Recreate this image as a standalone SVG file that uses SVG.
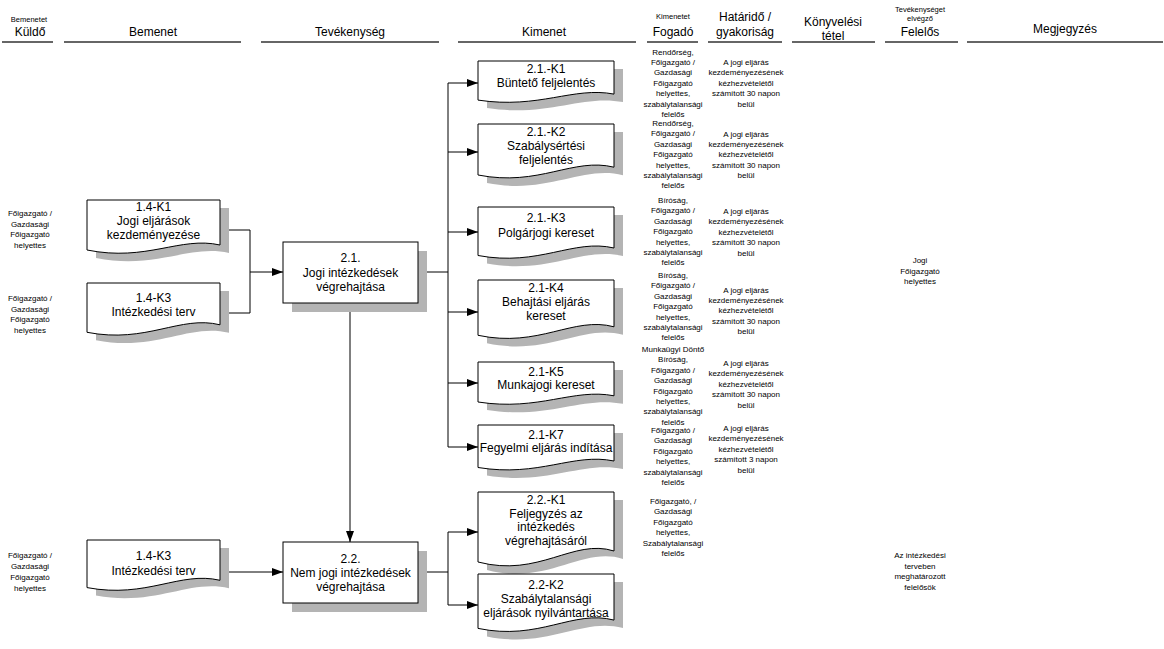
<svg xmlns="http://www.w3.org/2000/svg" xmlns:xlink="http://www.w3.org/1999/xlink" width="1164" height="649" viewBox="0 0 1164 649">
<style>
text{font-family:"Liberation Sans",Arial,sans-serif;text-anchor:middle;fill:#000}
.h{font-size:12px}
.hs{font-size:7.5px}
.t{font-size:12px}
.s{font-size:8px}
.hl{stroke:#666;stroke-width:2;fill:none}
.doc{fill:#fff;stroke:#000;stroke-width:1}
.sh{fill:#b4b4b4;stroke:none}
.box{fill:#fff;stroke:#000;stroke-width:1}
.c{fill:none;stroke:#000;stroke-width:1}
</style>
<defs>
<marker id="arr" markerUnits="userSpaceOnUse" markerWidth="11" markerHeight="8" refX="11" refY="4" orient="auto">
<path d="M0,0 L11,4 L0,8 Z" fill="#000"/>
</marker>
</defs>
<rect width="1164" height="649" fill="#fff"/>

<g id="header">
<line class="hl" x1="2" y1="42" x2="53" y2="42"/>
<line class="hl" x1="64" y1="42" x2="241" y2="42"/>
<line class="hl" x1="261" y1="42" x2="439" y2="42"/>
<line class="hl" x1="458" y1="42" x2="636" y2="42"/>
<line class="hl" x1="647" y1="42" x2="698" y2="42"/>
<line class="hl" x1="708" y1="42" x2="782" y2="42"/>
<line class="hl" x1="792" y1="42" x2="875" y2="42"/>
<line class="hl" x1="885" y1="42" x2="958" y2="42"/>
<line class="hl" x1="967" y1="42" x2="1163" y2="42"/>
<text class="hs" x="29" y="22">Bemenetet</text>
<text class="h" x="30" y="36">Küldő</text>
<text class="h" x="153" y="36">Bemenet</text>
<text class="h" x="350" y="36">Tevékenység</text>
<text class="h" x="544" y="36">Kimenet</text>
<text class="hs" x="673" y="19">Kimenetet</text>
<text class="h" x="673" y="36">Fogadó</text>
<text class="h" x="745" y="21">Határidő /</text>
<text class="h" x="745" y="36">gyakoriság</text>
<text class="h" x="833" y="26">Könyvelési</text>
<text class="h" x="833" y="40">tétel</text>
<text class="hs" x="920" y="12">Tevékenységet</text>
<text class="hs" x="920" y="21">elvégző</text>
<text class="h" x="920" y="36">Felelős</text>
<text class="h" x="1065" y="33">Megjegyzés</text>
</g>

<g id="connectors">
<path class="c" d="M220,230 H250 V313 H220"/>
<path class="c" d="M250,272 H283" marker-end="url(#arr)"/>
<path class="c" d="M418,272 H448 M448,83 V447"/>
<path class="c" d="M448,83 H478" marker-end="url(#arr)"/>
<path class="c" d="M448,152 H478" marker-end="url(#arr)"/>
<path class="c" d="M448,232 H478" marker-end="url(#arr)"/>
<path class="c" d="M448,312 H478" marker-end="url(#arr)"/>
<path class="c" d="M448,383 H478" marker-end="url(#arr)"/>
<path class="c" d="M448,447 H478" marker-end="url(#arr)"/>
<path class="c" d="M350,303 V542" marker-end="url(#arr)"/>
<path class="c" d="M220,572 H283" marker-end="url(#arr)"/>
<path class="c" d="M418,572 H448 M448,532 V605"/>
<path class="c" d="M448,532 H478" marker-end="url(#arr)"/>
<path class="c" d="M448,605 H478" marker-end="url(#arr)"/>
</g>

<g id="in-k1">
<path class="sh" transform="translate(9,8)" d="M87,200H220V245C180.1,236 146.9,262 87,250Z"/>
<path class="doc" d="M87,200H220V245C180.1,236 146.9,262 87,250Z"/>
<text class="t" x="153.5" y="211">1.4-K1</text>
<text class="t" x="153.5" y="225">Jogi eljárások</text>
<text class="t" x="153.5" y="239">kezdeményezése</text>
</g>
<g id="in-k3a">
<path class="sh" transform="translate(9,8)" d="M87,283H220V324.8C180.1,314.9 146.9,343.9 87,332.3Z"/>
<path class="doc" d="M87,283H220V324.8C180.1,314.9 146.9,343.9 87,332.3Z"/>
<text class="t" x="153.5" y="302">1.4-K3</text>
<text class="t" x="153.5" y="316">Intézkedési terv</text>
</g>
<g id="in-k3b">
<path class="sh" transform="translate(9,8)" d="M87,540H220V580.3C180.1,570.8 146.9,598.8 87,587.6Z"/>
<path class="doc" d="M87,540H220V580.3C180.1,570.8 146.9,598.8 87,587.6Z"/>
<text class="t" x="153.5" y="560">1.4-K3</text>
<text class="t" x="153.5" y="575">Intézkedési terv</text>
</g>

<g id="p21">
<rect class="sh" x="292" y="251" width="135" height="61"/>
<rect class="box" x="283" y="242" width="135" height="61"/>
<text class="t" x="350.5" y="262">2.1.</text>
<text class="t" x="350.5" y="277">Jogi intézkedések</text>
<text class="t" x="350.5" y="291">végrehajtása</text>
</g>
<g id="p22">
<rect class="sh" x="292" y="551" width="135" height="61"/>
<rect class="box" x="283" y="542" width="135" height="61"/>
<text class="t" x="350.5" y="563">2.2.</text>
<text class="t" x="350.5" y="577">Nem jogi intézkedések</text>
<text class="t" x="350.5" y="591">végrehajtása</text>
</g>

<g id="out-k1">
<path class="sh" transform="translate(9,8)" d="M478,61H614V94.1C573.2,86.3 539.2,109.3 478,100.1Z"/>
<path class="doc" d="M478,61H614V94.1C573.2,86.3 539.2,109.3 478,100.1Z"/>
<text class="t" x="546" y="73">2.1.-K1</text>
<text class="t" x="546" y="87">Büntető feljelentés</text>
</g>
<g id="out-k2">
<path class="sh" transform="translate(9,8)" d="M478,124H614V167.2C573.2,157 539.2,187 478,175Z"/>
<path class="doc" d="M478,124H614V167.2C573.2,157 539.2,187 478,175Z"/>
<text class="t" x="546" y="136">2.1.-K2</text>
<text class="t" x="546" y="150">Szabálysértési</text>
<text class="t" x="546" y="164">feljelentés</text>
</g>
<g id="out-k3">
<path class="sh" transform="translate(9,8)" d="M478,207H614V248C573.2,238.4 539.2,266.9 478,255.5Z"/>
<path class="doc" d="M478,207H614V248C573.2,238.4 539.2,266.9 478,255.5Z"/>
<text class="t" x="546" y="222">2.1.-K3</text>
<text class="t" x="546" y="237">Polgárjogi kereset</text>
</g>
<g id="out-k4">
<path class="sh" transform="translate(9,8)" d="M478,280H614V326.8C573.2,315.8 539.2,348.3 478,335.3Z"/>
<path class="doc" d="M478,280H614V326.8C573.2,315.8 539.2,348.3 478,335.3Z"/>
<text class="t" x="546" y="292">2.1-K4</text>
<text class="t" x="546" y="306">Behajtási eljárás</text>
<text class="t" x="546" y="320">kereset</text>
</g>
<g id="out-k5">
<path class="sh" transform="translate(9,8)" d="M478,362H614V395.8C573.2,387.9 539.2,411.4 478,402Z"/>
<path class="doc" d="M478,362H614V395.8C573.2,387.9 539.2,411.4 478,402Z"/>
<text class="t" x="546" y="376">2.1-K5</text>
<text class="t" x="546" y="389">Munkajogi kereset</text>
</g>
<g id="out-k7">
<path class="sh" transform="translate(9,8)" d="M478,425H614V461C573.2,452.5 539.2,477.5 478,467.5Z"/>
<path class="doc" d="M478,425H614V461C573.2,452.5 539.2,477.5 478,467.5Z"/>
<text class="t" x="546" y="439">2.1-K7</text>
<text class="t" x="546" y="452">Fegyelmi eljárás indítása</text>
</g>
<g id="out-22k1">
<path class="sh" transform="translate(9,8)" d="M478,492H614V551C573.2,538 539.2,578 478,562Z"/>
<path class="doc" d="M478,492H614V551C573.2,538 539.2,578 478,562Z"/>
<text class="t" x="546" y="504">2.2.-K1</text>
<text class="t" x="546" y="518">Feljegyzés az</text>
<text class="t" x="546" y="531">intézkedés</text>
<text class="t" x="546" y="545">végrehajtásáról</text>
</g>
<g id="out-22k2">
<path class="sh" transform="translate(9,8)" d="M478,574H614V620.1C573.2,609.2 539.2,641.2 478,628.4Z"/>
<path class="doc" d="M478,574H614V620.1C573.2,609.2 539.2,641.2 478,628.4Z"/>
<text class="t" x="546" y="589">2.2-K2</text>
<text class="t" x="546" y="603">Szabálytalansági</text>
<text class="t" x="546" y="617">eljárások nyilvántartása</text>
</g>

<g id="senders">
<text class="s" x="30" y="216">Főigazgató /</text>
<text class="s" x="30" y="227">Gazdasági</text>
<text class="s" x="30" y="237">Főigazgató</text>
<text class="s" x="30" y="248">helyettes</text>
<text class="s" x="30" y="301">Főigazgató /</text>
<text class="s" x="30" y="312">Gazdasági</text>
<text class="s" x="30" y="322">Főigazgató</text>
<text class="s" x="30" y="333">helyettes</text>
<text class="s" x="30" y="558">Főigazgató /</text>
<text class="s" x="30" y="569">Gazdasági</text>
<text class="s" x="30" y="580">Főigazgató</text>
<text class="s" x="30" y="591">helyettes</text>
</g>

<g id="receivers">
<text class="s" x="673" y="54.5">Rendőrség,</text>
<text class="s" x="673" y="65">Főigazgató /</text>
<text class="s" x="673" y="75.4">Gazdasági</text>
<text class="s" x="673" y="85.8">Főigazgató</text>
<text class="s" x="673" y="96.2">helyettes,</text>
<text class="s" x="673" y="106.6">szabálytalansági</text>
<text class="s" x="673" y="117">felelős</text>

<text class="s" x="673" y="126">Rendőrség,</text>
<text class="s" x="673" y="136.4">Főigazgató /</text>
<text class="s" x="673" y="146.8">Gazdasági</text>
<text class="s" x="673" y="157.2">Főigazgató</text>
<text class="s" x="673" y="167.6">helyettes,</text>
<text class="s" x="673" y="178">szabálytalansági</text>
<text class="s" x="673" y="188.4">felelős</text>

<text class="s" x="673" y="203">Bíróság,</text>
<text class="s" x="673" y="213.4">Főigazgató /</text>
<text class="s" x="673" y="223.8">Gazdasági</text>
<text class="s" x="673" y="234.2">Főigazgató</text>
<text class="s" x="673" y="244.6">helyettes,</text>
<text class="s" x="673" y="255">szabálytalansági</text>
<text class="s" x="673" y="265.4">felelős</text>

<text class="s" x="673" y="278">Bíróság,</text>
<text class="s" x="673" y="288.4">Főigazgató /</text>
<text class="s" x="673" y="298.8">Gazdasági</text>
<text class="s" x="673" y="309.2">Főigazgató</text>
<text class="s" x="673" y="319.6">helyettes,</text>
<text class="s" x="673" y="330">szabálytalansági</text>
<text class="s" x="673" y="340.4">felelős</text>

<text class="s" x="673" y="352">Munkaügyi Döntő</text>
<text class="s" x="673" y="362.4">Bíróság,</text>
<text class="s" x="673" y="372.8">Főigazgató /</text>
<text class="s" x="673" y="383.2">Gazdasági</text>
<text class="s" x="673" y="393.6">Főigazgató</text>
<text class="s" x="673" y="404">helyettes,</text>
<text class="s" x="673" y="414.4">szabálytalansági</text>
<text class="s" x="673" y="424.8">felelős</text>

<text class="s" x="673" y="433">Főigazgató /</text>
<text class="s" x="673" y="443.4">Gazdasági</text>
<text class="s" x="673" y="453.8">Főigazgató</text>
<text class="s" x="673" y="464.2">helyettes,</text>
<text class="s" x="673" y="474.6">szabálytalansági</text>
<text class="s" x="673" y="485">felelős</text>

<text class="s" x="673" y="504">Főigazgató, /</text>
<text class="s" x="673" y="514.4">Gazdasági</text>
<text class="s" x="673" y="524.8">Főigazgató</text>
<text class="s" x="673" y="535.2">helyettes,</text>
<text class="s" x="673" y="545.6">Szabálytalansági</text>
<text class="s" x="673" y="556">felelős</text>
</g>

<g id="deadlines">
<text class="s" x="746" y="65">A jogi eljárás</text>
<text class="s" x="746" y="75.4">kezdeményezésének</text>
<text class="s" x="746" y="85.8">kézhezvételétől</text>
<text class="s" x="746" y="96.2">számított 30 napon</text>
<text class="s" x="746" y="106.6">belül</text>

<text class="s" x="746" y="136.5">A jogi eljárás</text>
<text class="s" x="746" y="146.9">kezdeményezésének</text>
<text class="s" x="746" y="157.3">kézhezvételétől</text>
<text class="s" x="746" y="167.7">számított 30 napon</text>
<text class="s" x="746" y="178.1">belül</text>

<text class="s" x="746" y="214">A jogi eljárás</text>
<text class="s" x="746" y="224.4">kezdeményezésének</text>
<text class="s" x="746" y="234.8">kézhezvételétől</text>
<text class="s" x="746" y="245.2">számított 30 napon</text>
<text class="s" x="746" y="255.6">belül</text>

<text class="s" x="746" y="292.5">A jogi eljárás</text>
<text class="s" x="746" y="302.9">kezdeményezésének</text>
<text class="s" x="746" y="313.3">kézhezvételétől</text>
<text class="s" x="746" y="323.7">számított 30 napon</text>
<text class="s" x="746" y="334.1">belül</text>

<text class="s" x="746" y="366">A jogi eljárás</text>
<text class="s" x="746" y="376.4">kezdeményezésének</text>
<text class="s" x="746" y="386.8">kézhezvételétől</text>
<text class="s" x="746" y="397.2">számított 30 napon</text>
<text class="s" x="746" y="407.6">belül</text>

<text class="s" x="746" y="431">A jogi eljárás</text>
<text class="s" x="746" y="441.4">kezdeményezésének</text>
<text class="s" x="746" y="451.8">kézhezvételétől</text>
<text class="s" x="746" y="462.2">számított 3 napon</text>
<text class="s" x="746" y="472.6">belül</text>
</g>

<g id="responsible">
<text class="s" x="920" y="263">Jogi</text>
<text class="s" x="920" y="273.5">Főigazgató</text>
<text class="s" x="920" y="284">helyettes</text>
<text class="s" x="920" y="558">Az intézkedési</text>
<text class="s" x="920" y="568.5">terveben</text>
<text class="s" x="920" y="579">meghatározott</text>
<text class="s" x="920" y="589.5">felelősök</text>
</g>
</svg>
